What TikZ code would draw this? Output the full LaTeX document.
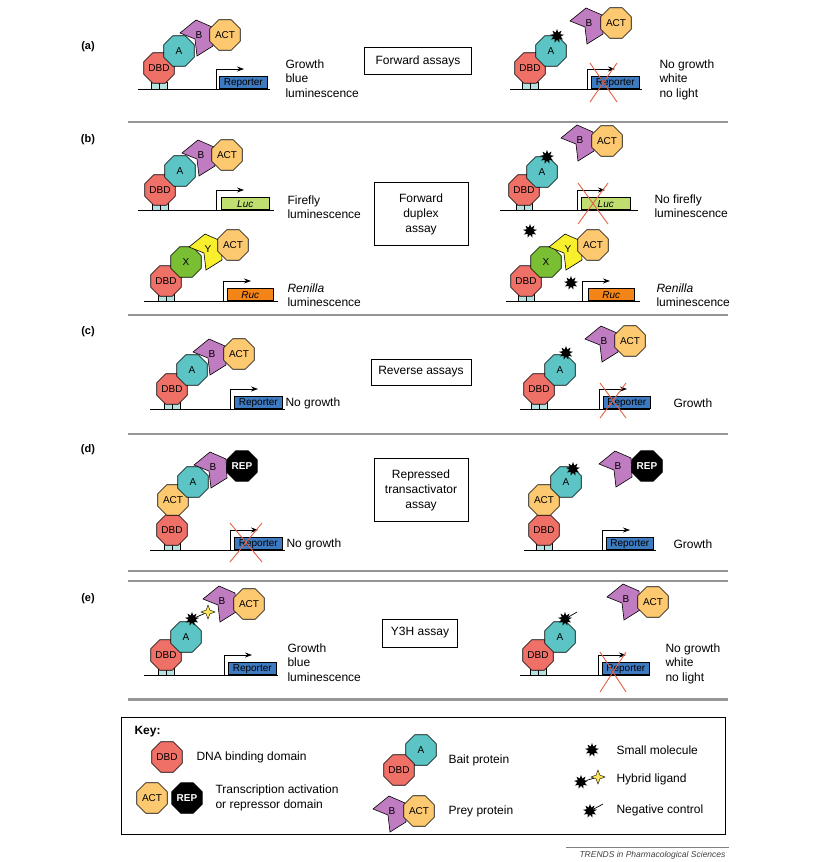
\documentclass[tikz,border=0pt]{standalone}
\usepackage{fontspec}
\setmainfont{Liberation Sans}
\usetikzlibrary{arrows.meta,shapes.geometric}

\definecolor{dbdc}{RGB}{238,112,103}
\definecolor{baitc}{RGB}{92,196,196}
\definecolor{preyc}{RGB}{192,124,192}
\definecolor{actc}{RGB}{252,200,112}
\definecolor{xc}{RGB}{122,190,52}
\definecolor{yc}{RGB}{248,240,44}
\definecolor{repc}{RGB}{62,122,192}
\definecolor{lucc}{RGB}{192,222,112}
\definecolor{rucc}{RGB}{242,132,24}
\definecolor{standc}{RGB}{182,226,226}
\definecolor{crossc}{RGB}{228,96,70}
\definecolor{sepc}{RGB}{150,150,150}
\definecolor{hybc}{RGB}{250,230,90}

\tikzset{
  oct/.style={regular polygon, regular polygon sides=8, minimum size=33pt, inner sep=0pt,
    draw, line width=0.6pt, fill=#1, font=\fontsize{10}{10}\selectfont},
  prey/.style={draw, line width=0.6pt, fill=#1},
  genebox/.style={draw, minimum height=12pt, inner sep=0pt, anchor=south west,
    line width=0.6pt, font=\fontsize{10}{10}\selectfont},
  mol/.style={star, star points=9, star point ratio=1.9, fill=black, minimum size=14pt, inner sep=0pt},
  hyb/.style={star, star points=4, star point ratio=2.6, draw, fill=hybc, minimum size=14pt,
    inner sep=0pt, line width=0.4pt},
  nogo/.style={draw=crossc, line width=0.9pt},
  sep/.style={draw=sepc, line width=2.5pt},
  lab/.style={font=\fontsize{12}{14.5}\selectfont, align=left, anchor=north west},
  res/.style={font=\fontsize{12}{14.5}\selectfont, anchor=west},
  assay/.style={draw, line width=0.7pt, align=center, font=\fontsize{12}{15}\selectfont},
  promoter/.style={-{Stealth[length=7pt,width=5pt]}, line width=0.7pt},
  panel/.style={font=\bfseries\fontsize{11}{11}\selectfont}
}

% baseline, promoter arrow and reporter gene
\newcommand{\gene}[9]{%
  \draw[line width=1pt] (#2,#4) -- (#3,#4);
  \draw[promoter] (#5,#4) -- ++(0,-20) -- ++(28,0);
  \node[genebox, fill=#9, minimum width=#7pt] (#1) at (#6,#4) {#8};}
% DNA binding site under the DBD
\newcommand{\stand}[2]{%
  \draw[fill=standc, line width=0.4pt] (#1-8,#2) rectangle (#1,#2-7) (#1,#2) rectangle (#1+8,#2-7);}
% prey (B, Y) shape
\newcommand{\prey}[5]{%
  \draw[prey=#4] (#2,#3) ++(-19,-2) -- ++(16,-13) -- ++(16,7) -- ++(1,19) -- ++(-16,10) -- ++(-2,-17) -- cycle;
  \node[font=\fontsize{10}{10}\selectfont] (#1) at (#2,#3) {#5};}
\newcommand{\nogene}[4]{\draw[nogo] (#1,#2) -- (#3,#4) (#3,#2) -- (#1,#4);}

\begin{document}
\begin{tikzpicture}[x=1pt,y=-1pt]
\useasboundingbox (0,0) rectangle (813,862);

% (a)
\node[panel] at (88,47) {(a)};
\gene{ga1}{138}{270}{89}{216}{219}{48}{Reporter}{repc}
\stand{159}{89}
\node[oct=dbdc] (dbda1) at (159,68) {DBD};
\node[oct=baitc] (aa1) at (179,51) {A};
\prey{ba1}{199}{35}{preyc}{B}
\node[oct=actc] (acta1) at (225,35) {ACT};
\node[lab] (ta1) at (282,56) {Growth\\blue\\luminescence};
\node[assay, minimum width=107pt, minimum height=27pt] (asa) at (418,61) {Forward assays};
\gene{ga2}{510}{642}{89}{587}{591}{48}{Reporter}{repc}
\stand{530}{89}
\node[oct=dbdc] (dbda2) at (530,68) {DBD};
\node[oct=baitc] (aa2) at (551,51) {A};
\node[mol] (ma2) at (557,36) {};
\prey{ba2}{589}{23}{preyc}{B}
\node[oct=actc] (acta2) at (616,23) {ACT};
\nogene{590}{63}{617}{102}
\node[lab] (ta2) at (656,56) {No growth\\white\\no light};
\draw[sep] (128,122) -- (728,122);

% (b)
\node[panel] at (88,140) {(b)};
\gene{gb1}{138}{274}{210}{216}{221}{48}{\textit{Luc}}{lucc}
\stand{160}{210}
\node[oct=dbdc] (dbdb1) at (160,190) {DBD};
\node[oct=baitc] (ab1) at (180,171) {A};
\prey{bb1}{201}{155}{preyc}{B}
\node[oct=actc] (actb1) at (227,155) {ACT};
\node[lab] (tb1) at (284,192) {Firefly\\luminescence};
\gene{gb2}{144}{278}{301}{223}{227}{46}{\textit{Ruc}}{rucc}
\stand{166}{301}
\node[oct=dbdc] (dbdb2) at (166,281) {DBD};
\node[oct=xc] (xb2) at (186,262) {X};
\prey{yb2}{208}{249}{yc}{Y}
\node[oct=actc] (actb2) at (233,245) {ACT};
\node[lab] (tb2) at (284,280) {\textit{Renilla}\\luminescence};
\node[assay, minimum width=94pt, minimum height=63pt] (asb) at (421,214) {Forward\\duplex\\assay};
\gene{gb3}{500}{638}{210}{577}{581}{49}{\textit{Luc}}{lucc}
\stand{524}{210}
\node[oct=dbdc] (dbdb3) at (524,190) {DBD};
\node[oct=baitc] (ab3) at (542,172) {A};
\node[mol] (mb3) at (547,157) {};
\prey{bb3}{580}{140}{preyc}{B}
\node[oct=actc] (actb3) at (607,141) {ACT};
\nogene{578}{183}{608}{224}
\node[lab] (tb3) at (651,191) {No firefly\\luminescence};
\node[mol] (mb4) at (530,231) {};
\gene{gb4}{506}{640}{301}{582}{588}{46}{\textit{Ruc}}{rucc}
\stand{526}{301}
\node[oct=dbdc] (dbdb4) at (526,281) {DBD};
\node[oct=xc] (xb4) at (546,262) {X};
\prey{yb4}{568}{249}{yc}{Y}
\node[oct=actc] (actb4) at (593,245) {ACT};
\node[mol] (mb5) at (571,283) {};
\node[lab] (tb4) at (653,280) {\textit{Renilla}\\luminescence};
\draw[sep] (128,315) -- (728,315);

% (c)
\node[panel] at (88,332) {(c)};
\gene{gc1}{150}{285}{409}{230}{234}{48}{Reporter}{repc}
\stand{172}{409}
\node[oct=dbdc] (dbdc1) at (172,389) {DBD};
\node[oct=baitc] (ac1) at (192,370) {A};
\prey{bc1}{212}{354}{preyc}{B}
\node[oct=actc] (actc1) at (239,354) {ACT};
\node[res] (tc1) at (282,403) {No growth};
\node[assay, minimum width=100pt, minimum height=26pt] (asc) at (421,372) {Reverse assays};
\gene{gc2}{520}{650}{409}{599}{603}{47}{Reporter}{repc}
\stand{539}{409}
\node[oct=dbdc] (dbdc2) at (539,389) {DBD};
\node[oct=baitc] (ac2) at (560,370) {A};
\node[mol] (mc2) at (566,353) {};
\prey{bc2}{604}{341}{preyc}{B}
\node[oct=actc] (actc2) at (630,341) {ACT};
\nogene{600}{383}{626}{418}
\node[res] (tc2) at (670,403) {Growth};
\draw[sep] (128,434) -- (728,434);

% (d)
\node[panel] at (88,450) {(d)};
\gene{gd1}{150}{285}{550}{230}{234}{48}{Reporter}{repc}
\stand{172}{550}
\node[oct=dbdc] (dbdd1) at (172,530) {DBD};
\node[oct=actc] (actd1) at (173,500) {ACT};
\node[oct=baitc] (ad1) at (193,482) {A};
\prey{bd1}{213}{467}{preyc}{B}
\node[oct=black, text=white, font=\bfseries\fontsize{10}{10}\selectfont] (repd1) at (242,466) {REP};
\nogene{230}{523}{262}{562}
\node[res] (td1) at (283,544) {No growth};
\node[assay, minimum width=94pt, minimum height=63pt] (asd) at (421,490) {Repressed\\transactivator\\assay};
\gene{gd2}{524}{656}{550}{602}{606}{47}{Reporter}{repc}
\stand{544}{550}
\node[oct=dbdc] (dbdd2) at (544,530) {DBD};
\node[oct=actc] (actd2) at (544,500) {ACT};
\node[oct=baitc] (ad2) at (566,482) {A};
\node[mol] (md2) at (573,469) {};
\prey{bd2}{618}{466}{preyc}{B}
\node[oct=black, text=white, font=\bfseries\fontsize{10}{10}\selectfont] (repd2) at (647,466) {REP};
\node[res] (td2) at (670,544) {Growth};
\draw[sep] (128,571) -- (728,571);
\draw[sep] (128,581) -- (728,581);

% (e)
\node[panel] at (88,599) {(e)};
\gene{ge1}{144}{278}{675}{224}{228}{48}{Reporter}{repc}
\stand{166}{675}
\node[oct=dbdc] (dbde1) at (166,655) {DBD};
\node[oct=baitc] (ae1) at (186,637) {A};
\prey{be1}{222}{601}{preyc}{B}
\node[oct=actc] (acte1) at (249,604) {ACT};
\node[mol] (me1) at (192,619) {};
\node[hyb] (he1) at (208,612) {};
\draw[line width=0.7pt] (me1) -- (he1);
\node[lab] (te1) at (284,640) {Growth\\blue\\luminescence};
\node[assay, minimum width=75pt, minimum height=28pt] (ase) at (420,633) {Y3H assay};
\gene{ge2}{520}{650}{675}{598}{602}{47}{Reporter}{repc}
\stand{538}{675}
\node[oct=dbdc] (dbde2) at (538,655) {DBD};
\node[oct=baitc] (ae2) at (560,637) {A};
\node[mol] (me2) at (565,619) {};
\draw[line width=0.7pt] (me2) -- ++(12,-7);
\prey{be2}{626}{599}{preyc}{B}
\node[oct=actc] (acte2) at (653,602) {ACT};
\nogene{600}{652}{626}{692}
\node[lab] (te2) at (662,640) {No growth\\white\\no light};
\draw[sep, line width=3pt] (128,699) -- (728,699);

% key
\draw[line width=0.8pt] (121,717) rectangle (725,834);
\node[res, font=\bfseries\fontsize{12}{14}\selectfont] (key) at (131,732) {Key:};
\node[oct=dbdc] (kdbd) at (167,757) {DBD};
\node[res] at (193,757) {DNA binding domain};
\node[oct=actc] (kact) at (152,798) {ACT};
\node[oct=black, text=white, font=\bfseries\fontsize{10}{10}\selectfont] (krep) at (187,798) {REP};
\node[res, align=left] at (212,798) {Transcription activation\\or repressor domain};
\node[oct=baitc] (kA) at (421,750) {A};
\node[oct=dbdc] (kbdbd) at (399,770) {DBD};
\node[res] at (445,760) {Bait protein};
\prey{kB}{392}{811}{preyc}{B}
\node[oct=actc] (kpact) at (419,811) {ACT};
\node[res] at (445,811) {Prey protein};
\node[mol] (ksm) at (592,750) {};
\node[res] at (613,750) {Small molecule};
\node[mol] (khm) at (581,782) {};
\node[hyb] (khy) at (598,777) {};
\draw[line width=0.7pt] (khm) -- (khy);
\node[res] at (613,779) {Hybrid ligand};
\node[mol] (knc) at (590,811) {};
\draw[line width=0.7pt] (knc) -- ++(13,-7);
\node[res] at (613,810) {Negative control};

\draw[line width=0.5pt, gray] (566,847) -- (729,847);
\node[anchor=east, font=\itshape\fontsize{8.5}{8.5}\selectfont, text=darkgray] at (729,855) {TRENDS in Pharmacological Sciences};
\end{tikzpicture}
\end{document}
